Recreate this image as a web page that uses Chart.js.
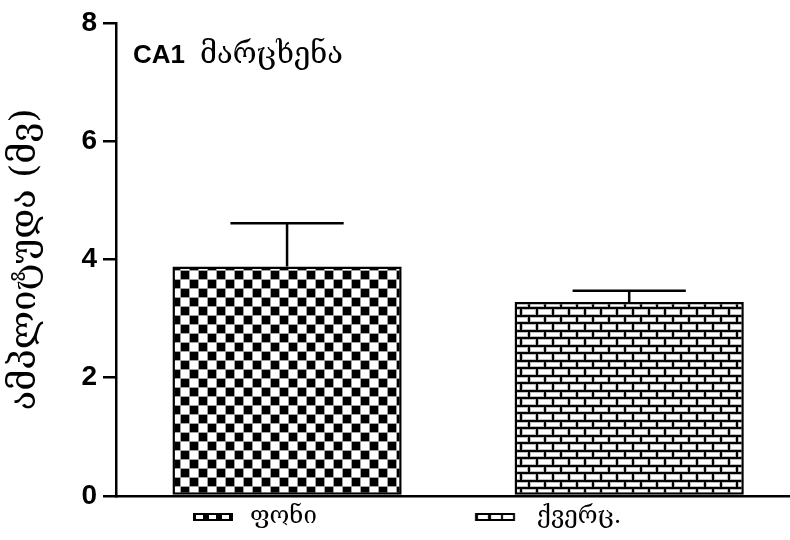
<!DOCTYPE html>
<html>
<head>
<meta charset="utf-8">
<script src="https://cdn.jsdelivr.net/npm/chart.js@4"></script>
<style>
  html, body { margin: 0; padding: 0; background: #fff; }
  canvas { display: block; }
</style>
</head>
<body>
<canvas id="chart" width="790" height="540"></canvas>
<script>
// Mean amplitude per condition with its standard error
const categories = ['ფონი', 'ქვერც.'];
const amplitudes = [3.88, 3.28];
const sem = [0.73, 0.19];
const yTicks = [0, 2, 4, 6, 8];
const panelLabel = ['CA1', 'მარცხენა'];
const yTitle = 'ამპლიტუდა (მვ)';

const GEO_FONT = '"DejaVu Serif", "DejaVu Sans", serif';
const NUM_FONT = '"Liberation Sans", Arial, sans-serif';

const canvas = document.getElementById('chart');
const ctx = canvas.getContext('2d');

// Checkerboard fill
function checkerPattern() {
  const c = document.createElement('canvas');
  c.width = 18; c.height = 18;
  const g = c.getContext('2d');
  g.fillStyle = '#fff'; g.fillRect(0, 0, 18, 18);
  g.fillStyle = '#a0a0a0';
  g.fillRect(0, 0, 18, 1); g.fillRect(0, 9, 18, 1);
  g.fillRect(0, 0, 1, 18); g.fillRect(9, 0, 1, 18);
  g.fillStyle = '#000';
  g.fillRect(1, 1, 8, 8); g.fillRect(10, 10, 8, 8);
  return ctx.createPattern(c, 'repeat');
}

// Brick-wall fill
function brickPattern() {
  const c = document.createElement('canvas');
  c.width = 16; c.height = 15;
  const g = c.getContext('2d');
  g.fillStyle = '#000'; g.fillRect(0, 0, 16, 15);
  const brick = (x, y, w, h) => {
    g.fillStyle = '#bdbdbd'; g.fillRect(x, y, w, h);
    g.fillStyle = '#fff'; g.fillRect(x + 1, y + 1, w - 2, h - 2);
  };
  brick(2, 2, 14, 5);
  brick(10, 9, 14, 6); brick(-6, 9, 14, 6);
  return ctx.createPattern(c, 'repeat');
}

// Legend layout
const LEGEND_FS = 24;
const LEGEND_PAD = 9;
const LEGEND_LEFT = 30;
const LEGEND_BOX = 250 - LEGEND_LEFT - LEGEND_PAD - LEGEND_FS / 2;

ctx.font = LEGEND_FS + 'px ' + GEO_FONT;
const firstTextW = ctx.measureText(categories[0]).width;
const box1Start = LEGEND_LEFT + LEGEND_PAD;
const box2Start = box1Start + LEGEND_BOX + LEGEND_FS / 2 + firstTextW + LEGEND_PAD;

function legendIcon(kind, offset) {
  const c = document.createElement('canvas');
  c.width = LEGEND_BOX; c.height = 8;
  const g = c.getContext('2d');
  g.fillStyle = '#000'; g.fillRect(offset, 0, 40, 8);
  g.fillStyle = '#fff';
  const cells = kind === 'checker' ? [[3, 7], [16, 7], [29, 7]] : [[3, 10], [16, 10], [28, 10]];
  cells.forEach(([x, w]) => g.fillRect(offset + x, 2, w, 4));
  return c;
}
const legendIcons = [
  legendIcon('checker', 193 - box1Start),
  legendIcon('brick', 475 - box2Start)
];

// Upper error bars (mean + SEM) drawn through the y scale
const errorBars = {
  id: 'errorBars',
  afterDatasetsDraw(chart) {
    const meta = chart.getDatasetMeta(0);
    const y = chart.scales.y;
    const g = chart.ctx;
    g.save();
    g.strokeStyle = '#000';
    g.lineWidth = 2.5;
    meta.data.forEach((bar, i) => {
      const top = y.getPixelForValue(amplitudes[i] + sem[i]);
      const half = bar.width * 0.247;
      g.beginPath();
      g.moveTo(bar.x, bar.y);
      g.lineTo(bar.x, top);
      g.moveTo(bar.x - half, top);
      g.lineTo(bar.x + half, top);
      g.stroke();
    });
    g.restore();
  }
};

// Panel label in the upper-left corner of the plot
const panelText = {
  id: 'panelText',
  afterDraw(chart) {
    const a = chart.chartArea;
    const g = chart.ctx;
    g.save();
    g.fillStyle = '#000';
    g.textBaseline = 'alphabetic';
    g.font = 'bold 26px ' + NUM_FONT;
    g.fillText(panelLabel[0], a.left + 17, a.top + 40);
    g.font = '29px ' + GEO_FONT;
    g.fillText(panelLabel[1], a.left + 84, a.top + 40);
    g.restore();
  }
};

new Chart(ctx, {
  type: 'bar',
  data: {
    datasets: [{
      data: amplitudes.map((v, i) => ({ x: i, y: v })),
      backgroundColor: [checkerPattern(), brickPattern()],
      borderColor: '#000',
      borderWidth: 2.5,
      borderSkipped: false,
      categoryPercentage: 1,
      barPercentage: 0.67
    }]
  },
  options: {
    responsive: false,
    animation: false,
    devicePixelRatio: 1,
    layout: { padding: { left: LEGEND_LEFT, right: 0, top: 22, bottom: 1 } },
    plugins: {
      tooltip: { enabled: false },
      legend: {
        position: 'bottom',
        align: 'start',
        labels: {
          usePointStyle: true,
          pointStyleWidth: LEGEND_BOX,
          boxHeight: 8,
          padding: LEGEND_PAD,
          color: '#000',
          font: { family: GEO_FONT, size: LEGEND_FS },
          generateLabels: () => categories.map((t, i) => ({
            text: t,
            pointStyle: legendIcons[i],
            fillStyle: '#000',
            strokeStyle: '#000',
            lineWidth: 0,
            fontColor: '#000',
            hidden: false,
            index: i
          }))
        }
      }
    },
    scales: {
      x: {
        type: 'linear',
        offset: false,
        min: -0.5,
        max: 1.47,
        afterBuildTicks: (scale) => { scale.ticks = categories.map((_, i) => ({ value: i })); },
        grid: { display: false, drawTicks: false },
        ticks: { display: false },
        border: { display: true, color: '#000', width: 2.5 }
      },
      y: {
        min: 0,
        max: 8,
        afterBuildTicks: (scale) => { scale.ticks = yTicks.map(v => ({ value: v })); },
        afterFit: (scale) => { scale.width = 86; },
        grid: {
          display: true,
          drawOnChartArea: false,
          drawTicks: true,
          tickLength: 13,
          color: '#000',
          lineWidth: 2.5
        },
        border: { display: true, color: '#000', width: 2.5 },
        ticks: {
          padding: 6,
          color: '#000',
          font: { family: NUM_FONT, size: 28, weight: 'bold' }
        },
        title: {
          display: true,
          text: yTitle,
          color: '#000',
          font: { family: GEO_FONT, size: 36, lineHeight: 1.2 },
          padding: { top: -26, bottom: 0 }
        }
      }
    }
  },
  plugins: [errorBars, panelText]
});
</script>
</body>
</html>
